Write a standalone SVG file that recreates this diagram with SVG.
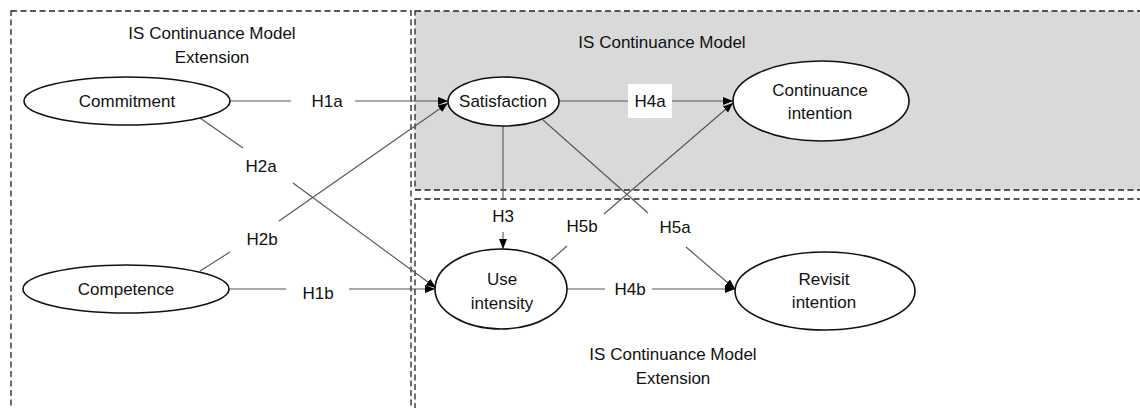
<svg xmlns="http://www.w3.org/2000/svg" width="1140" height="408" viewBox="0 0 1140 408">
<style>
  .box{fill:none;stroke:#222;stroke-width:1.3;stroke-dasharray:6,3.5}
  .node{fill:#fff;stroke:#111;stroke-width:1.6}
  .t{font-family:"Liberation Sans",Arial,sans-serif;font-size:17px;fill:#111;text-anchor:middle}
  .lbl{font-family:"Liberation Sans",Arial,sans-serif;font-size:17px;fill:#111;text-anchor:middle}
  .c{fill:none;stroke:#555;stroke-width:1.1}
</style>
<defs>
  <marker id="arr" viewBox="0 0 10 10" refX="10" refY="5" markerWidth="10" markerHeight="10" markerUnits="userSpaceOnUse" orient="auto">
    <path d="M0,1 L10,5 L0,9 Z" fill="#000"/>
  </marker>
</defs>
<rect width="1140" height="408" fill="#fff"/>
<g id="regions">
  <rect x="415" y="11" width="740" height="179" fill="#d9d9d9" stroke="#222" stroke-width="1.3" stroke-dasharray="6,3.5"/>
  <rect class="box" x="11" y="11" width="400" height="410"/>
  <rect class="box" x="415" y="199" width="740" height="220"/>
  <text class="t" x="212" y="39">IS Continuance Model</text>
  <text class="t" x="212" y="63">Extension</text>
  <text class="t" x="662" y="48">IS Continuance Model</text>
  <text class="t" x="673" y="360">IS Continuance Model</text>
  <text class="t" x="673" y="384">Extension</text>
</g>
<g id="connectors">
  <path class="c" d="M230,101 H291"/>
  <path class="c" d="M355,101 H448" marker-end="url(#arr)"/>
  <text class="lbl" x="327" y="107">H1a</text>
  <path class="c" d="M200,118 L243,148"/>
  <path class="c" d="M293,183 L436,288" marker-end="url(#arr)"/>
  <text class="lbl" x="261" y="172">H2a</text>
  <path class="c" d="M200,271 L230,252"/>
  <path class="c" d="M279,221 L448,103" marker-end="url(#arr)"/>
  <text class="lbl" x="262" y="245">H2b</text>
  <path class="c" d="M229,289 H286"/>
  <path class="c" d="M349,289 H435" marker-end="url(#arr)"/>
  <text class="lbl" x="318" y="299">H1b</text>
  <path class="c" d="M559,101 H733" marker-end="url(#arr)"/>
  <rect x="628" y="84" width="44" height="34" fill="#fff"/>
  <text class="lbl" x="650" y="107">H4a</text>
  <path class="c" d="M503,126 V199"/>
  <path class="c" d="M503,232 V249" marker-end="url(#arr)"/>
  <text class="lbl" x="503" y="222">H3</text>
  <path class="c" d="M543,120 L648,213"/>
  <path class="c" d="M686,247 L735,289" marker-end="url(#arr)"/>
  <text class="lbl" x="675" y="233">H5a</text>
  <path class="c" d="M551,260 L567,246"/>
  <path class="c" d="M604,214 L733,103" marker-end="url(#arr)"/>
  <text class="lbl" x="582" y="232">H5b</text>
  <path class="c" d="M567,289 H605"/>
  <path class="c" d="M652,289 H735" marker-end="url(#arr)"/>
  <text class="lbl" x="630" y="295">H4b</text>
</g>
<g id="commitment">
  <ellipse class="node" cx="127" cy="101" rx="103" ry="24"/>
  <text class="t" x="127" y="107">Commitment</text>
</g>
<g id="competence">
  <ellipse class="node" cx="126" cy="289" rx="103" ry="24"/>
  <text class="t" x="126" y="295">Competence</text>
</g>
<g id="satisfaction">
  <ellipse class="node" cx="503.5" cy="101.5" rx="55.5" ry="24.5"/>
  <text class="t" x="503" y="107">Satisfaction</text>
</g>
<g id="continuance-intention">
  <ellipse class="node" cx="821" cy="101" rx="88" ry="40"/>
  <text class="t" x="820" y="96">Continuance</text>
  <text class="t" x="820" y="119">intention</text>
</g>
<g id="use-intensity">
  <ellipse class="node" cx="501" cy="289" rx="66" ry="40"/>
  <text class="t" x="502" y="285">Use</text>
  <text class="t" x="502" y="309">intensity</text>
</g>
<g id="revisit-intention">
  <ellipse class="node" cx="825" cy="291" rx="90" ry="39"/>
  <text class="t" x="824" y="285">Revisit</text>
  <text class="t" x="824" y="308">intention</text>
</g>
</svg>
